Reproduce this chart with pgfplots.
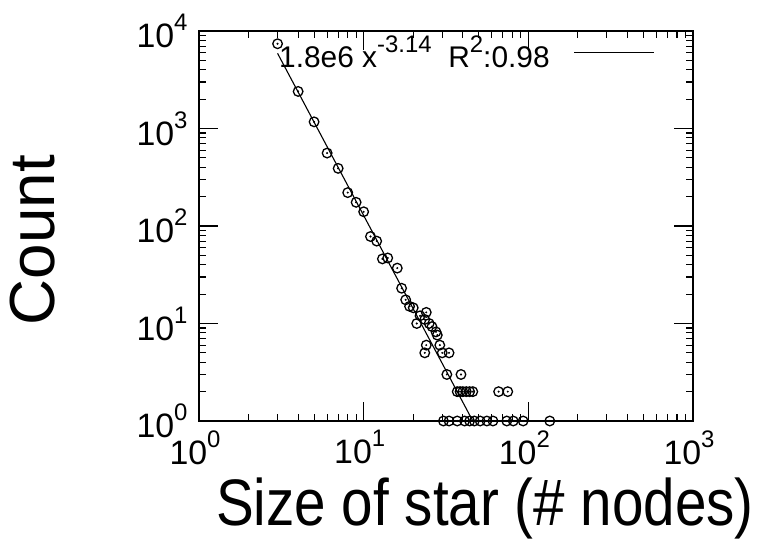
\documentclass[border=0pt]{standalone}
\usepackage{pgfplots}
\usepackage{pgfplotstable}
\pgfplotsset{compat=1.18}
\usepackage{fontspec}
\setmainfont{Liberation Sans}
\newcommand\tl[1]{{\fontsize{34}{34}\selectfont 10\raisebox{0.5em}{\fontsize{24}{24}\selectfont #1}}}

\pgfplotstableread{
x y
3 7400
4 2400
5 1170
6 560
7 390
8 220
9 175
10 140
11 78
12 70
13 46
14 47
16 37
17 23
18 17.5
19 15
20 14.5
21 10
22 12
23.5 11
24 13
25 10
24 6
23.5 5
26 9.3
27.5 8.2
28 7.6
29 6
30 5
33 5
32 3
39 3
37 2
38.5 2
40 2
42 2
44 2
46 2
66 2
75 2
30.5 1
33 1
37 1
41 1
44 1
47 1
51 1
56 1
61 1
74 1
81 1
93 1
135 1
}\data

\pgfplotstableread{
x y
3 5900
46 1
}\fit

\begin{document}
\begin{tikzpicture}
\useasboundingbox[fill=white] (-199bp,-133bp) rectangle (564bp,421bp);
\begin{axis}[
  at={(0,0)}, anchor=south west,
  scale only axis, width=494bp, height=390bp,
  xmode=log, ymode=log,
  xmin=1, xmax=1000, ymin=1, ymax=10000,
  axis line style={line width=1.5bp},
  every tick/.style={black, line width=1.1bp},
  major tick length=19bp, minor tick length=7bp,
  tick align=inside,
  xtick={1,10,100,1000}, ytick={1,10,100,1000,10000},
  xticklabels={\tl{0},\tl{1},\tl{2},\tl{3}},
  yticklabels={\tl{0},\tl{1},\tl{2},\tl{3},\tl{4}},
  xticklabel style={yshift=-6bp, xshift=-4bp},
  yticklabel style={xshift=-8bp},
  clip mode=individual,
  legend plot pos=right,
  legend style={draw=none, fill=none, at={(0.923,0.945)}, anchor=east,
    inner sep=0pt, font=\fontsize{30}{30}\selectfont,
    /tikz/column 1/.style={column sep=22bp}},
  legend image code/.code={\draw[#1] (0bp,0bp) -- (80bp,0bp);},
]
\addplot[black, line width=1.1bp] table {\fit};
\addlegendentry{1.8e6 x\raisebox{0.5em}{\fontsize{24}{24}\selectfont -3.14}\ \ R\raisebox{0.5em}{\fontsize{24}{24}\selectfont 2}:0.98}
\addplot[only marks, mark=o, mark size=4.8bp, mark options={line width=1.3bp}, forget plot] table {\data};
\addplot[only marks, mark=*, mark size=0.8bp, forget plot] table {\data};
\end{axis}
\node[rotate=90] at (-166bp,181bp) {\fontsize{64}{64}\selectfont Count};
\node[anchor=base] at (286bp,-104bp) {\scalebox{0.86}[1]{\fontsize{66}{66}\selectfont Size of star (\# nodes)}};
\end{tikzpicture}
\end{document}
